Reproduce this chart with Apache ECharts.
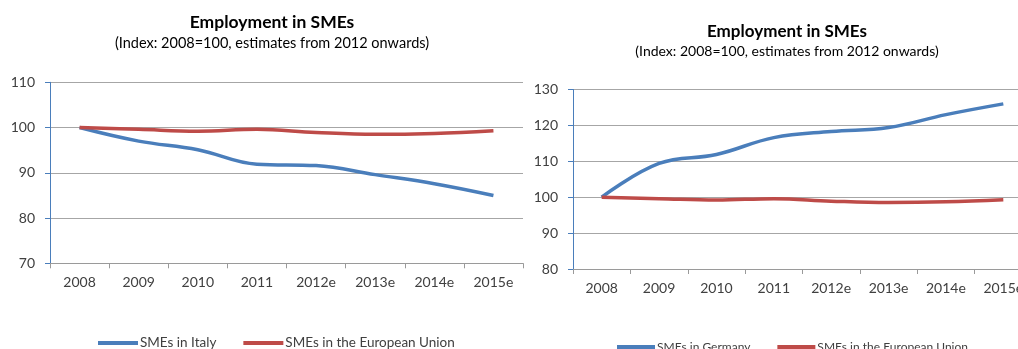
<!DOCTYPE html>
<html>
<head>
<meta charset="utf-8">
<script src="https://cdn.jsdelivr.net/npm/echarts@6/dist/echarts.min.js"></script>
<style>
html,body{margin:0;padding:0;background:#fff;}
#chart{width:1018px;height:349px;}
</style>
</head>
<body>
<div id="chart"></div>
<script>
// ---- data ----
const categories = ['2008', '2009', '2010', '2011', '2012e', '2013e', '2014e', '2015e'];
const smesItaly = [100, 97.0, 95.1, 91.9, 91.6, 89.6, 87.6, 85.0];
const smesGermany = [100, 109.4, 111.9, 116.6, 118.3, 119.4, 123.0, 126.0];
const smesEU = [100, 99.6, 99.2, 99.6, 98.9, 98.5, 98.7, 99.3];
const titleText = 'Employment in SMEs';
const subtitleText = '(Index: 2008=100, estimates from 2012 onwards)';
const nameItaly = 'SMEs in Italy';
const nameGermany = 'SMEs in Germany';
const nameEU = 'SMEs in the European Union';

const FONT = 'Lato';
const BLUE = '#4A7EBB';
const RED = '#BE4B48';
const TXT = '#404040';

const chart = echarts.init(document.getElementById('chart'), null, {renderer: 'canvas'});

function xAxis(gridIndex) {
  return {
    type: 'category', gridIndex: gridIndex, data: categories, boundaryGap: true,
    axisLine: {lineStyle: {color: '#9a9a9a', width: 1}},
    axisTick: {show: true, length: 5, inside: false, lineStyle: {color: '#9a9a9a'}},
    axisLabel: {color: TXT, fontFamily: FONT, fontSize: 14, margin: 12, interval: 0},
    splitLine: {show: false}
  };
}
function yAxis(gridIndex, min, max) {
  return {
    type: 'value', gridIndex: gridIndex, min: min, max: max, interval: 10,
    axisLine: {show: true, lineStyle: {color: '#4A7EBB', width: 1}},
    axisTick: {show: true, length: 5, lineStyle: {color: '#4A7EBB'}},
    axisLabel: {color: TXT, fontFamily: FONT, fontSize: 14, margin: 15},
    splitLine: {show: true, lineStyle: {color: '#a6a6a6', width: 1}}
  };
}
function line(name, data, color, idx) {
  return {
    name: name, type: 'line', xAxisIndex: idx, yAxisIndex: idx, data: data,
    smooth: 0.4, symbol: 'none',
    lineStyle: {color: color, width: 3.5}, itemStyle: {color: color}
  };
}
function legend(names, left, top, fontSize, iconW) {
  return {
    data: names, left: left, top: top,
    icon: 'rect', itemWidth: iconW, itemHeight: 4, itemGap: 27, padding: 0,
    textStyle: {color: TXT, fontFamily: FONT, fontSize: fontSize, lineHeight: 14, padding: [0, 0, 0, -3]}
  };
}

chart.setOption({
  animation: false,
  backgroundColor: '#fff',
  title: [
    {text: titleText, subtext: subtitleText, left: 272, top: 13, textAlign: 'center', itemGap: 5, padding: 0,
     textStyle: {fontFamily: FONT, fontSize: 17.5, fontWeight: 'bold', color: '#000'},
     subtextStyle: {fontFamily: FONT, fontSize: 14.5, color: '#000'}},
    {text: titleText, subtext: subtitleText, left: 787, top: 23, textAlign: 'center', itemGap: 4, padding: 0,
     textStyle: {fontFamily: FONT, fontSize: 17, fontWeight: 'bold', color: '#000'},
     subtextStyle: {fontFamily: FONT, fontSize: 14, color: '#000'}}
  ],
  grid: [
    {left: 50, top: 82.3, width: 473, height: 181, containLabel: false, outerBoundsMode: 'none'},
    {left: 573, top: 89.5, width: 459, height: 179.5, containLabel: false, outerBoundsMode: 'none'}
  ],
  xAxis: [xAxis(0), xAxis(1)],
  yAxis: [yAxis(0, 70, 110), yAxis(1, 80, 130)],
  legend: [
    legend([nameItaly, nameEU], 98, 336, 13.5, 40),
    legend([nameGermany, nameEU], 617, 340, 12, 38)
  ],
  series: [
    line(nameItaly, smesItaly, BLUE, 0),
    line(nameEU, smesEU, RED, 0),
    line(nameGermany, smesGermany, BLUE, 1),
    line(nameEU, smesEU, RED, 1)
  ]
});
</script>
</body>
</html>
